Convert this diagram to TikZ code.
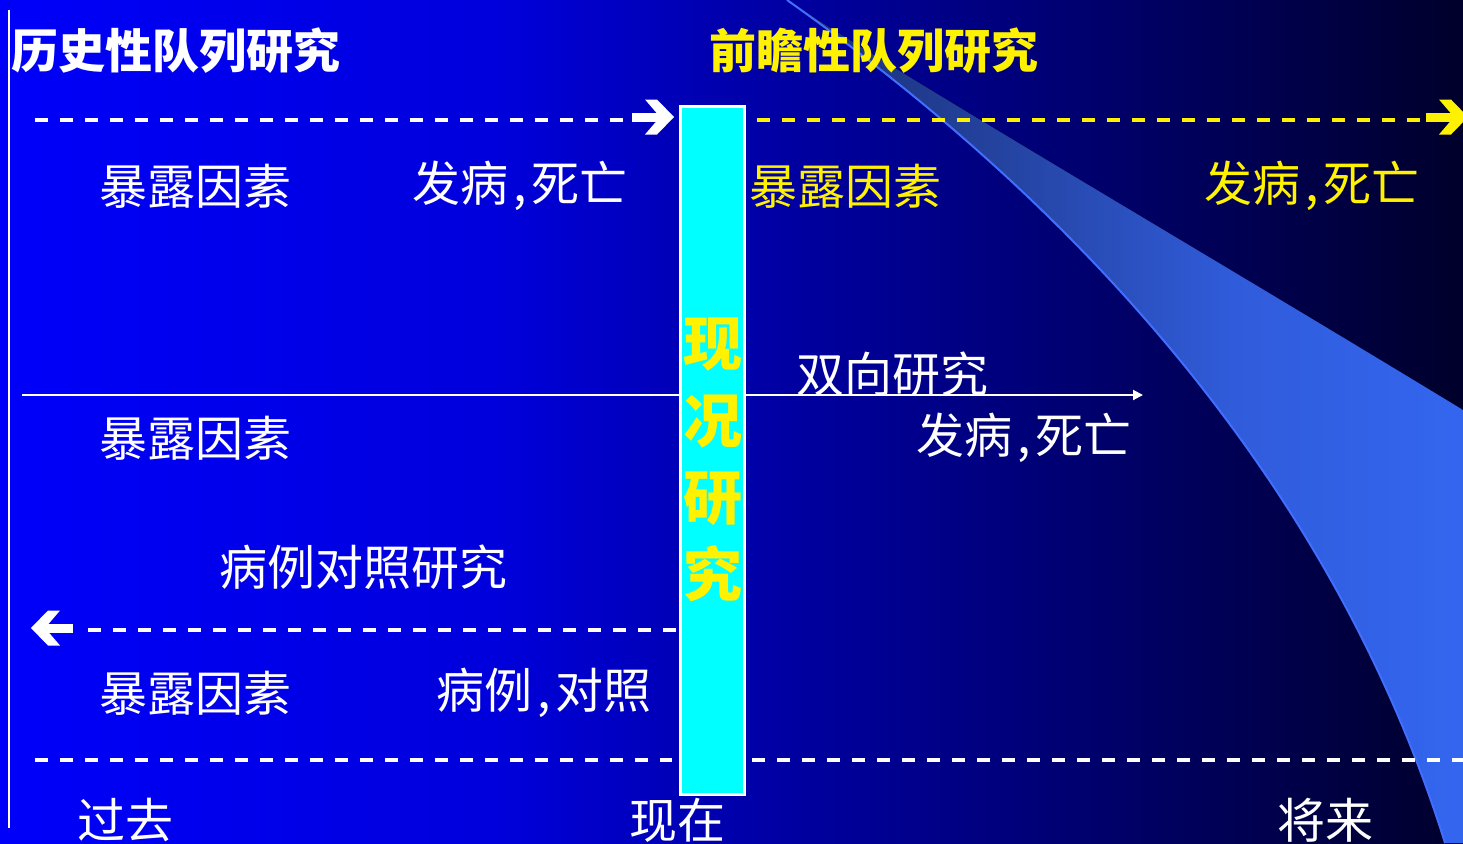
\documentclass[tikz,border=0pt]{standalone}
\usepackage{fontspec}
\newfontfamily\cjk{Noto Sans CJK SC}
\usetikzlibrary{arrows.meta}
\pgfdeclarehorizontalshading{bgshade}{100bp}{rgb(0bp)=(0,0,0.98); rgb(25bp)=(0,0,0.98); rgb(42bp)=(0,0,0.86); rgb(50.6bp)=(0,0,0.66); rgb(59.2bp)=(0,0,0.49); rgb(75bp)=(0,0,0.17); rgb(100bp)=(0,0,0.17)}
\pgfdeclarehorizontalshading{swshade}{100bp}{rgb(0bp)=(0.10,0.18,0.45); rgb(25bp)=(0.10,0.18,0.45); rgb(40bp)=(0.14,0.26,0.62); rgb(58bp)=(0.19,0.36,0.86); rgb(75bp)=(0.20,0.40,0.94); rgb(100bp)=(0.20,0.40,0.94)}
\definecolor{swedge}{RGB}{64,110,255}
\definecolor{cyanbox}{RGB}{0,255,255}
\tikzset{
  lbl/.style={font=\cjk\fontsize{48}{48}\selectfont, text=white, inner sep=0pt, anchor=west},
  ylbl/.style={lbl, text=yellow},
  ttl/.style={lbl, font=\cjk\bfseries\fontsize{47}{47}\selectfont},
  dashline/.style={line width=4pt, dash pattern=on 13pt off 12pt},
  fatarrow/.pic={
    \fill (-42,-4.5) rectangle (-13,4.5);
    \fill (0,0) -- (-17,-17.5) -- (-29,-17.5) -- (-14,0) -- (-29,17.5) -- (-17,17.5) -- cycle;
  }
}
\begin{document}
\begin{tikzpicture}[x=1pt,y=-1pt]
\useasboundingbox (0,0) rectangle (1463,843);
% background
\fill[shading=bgshade] (0,0) rectangle (1463,843);
% swoosh
\fill[shading=swshade] (787,0) .. controls (1110,228) and (1342,513) .. (1445,843)
  -- (1470,843) -- (1470,414) -- (1463,410) .. controls (1200,250) and (900,75) .. (787,0) -- cycle;
\draw[swedge, line width=2pt] (787,0) .. controls (1110,228) and (1342,513) .. (1445,843);

% left vertical line
\coordinate (vtop) at (9,10);
\coordinate (vbot) at (9,828);
\draw[white, line width=2pt] (vtop) -- (vbot);

% time points
\coordinate (hA) at (35,120);  \coordinate (hB) at (623,120);
\coordinate (pA) at (757,120); \coordinate (pB) at (1420,120);
\coordinate (bA) at (22,395);  \coordinate (bB) at (1143,395);
\coordinate (cA) at (676,630); \coordinate (cB) at (82,630);
\coordinate (tA) at (35,760);  \coordinate (tB) at (672,760);
\coordinate (tC) at (752,760); \coordinate (tD) at (1463,760);

\draw[white, dashline] (hA) -- (hB);
\pic[white] at (674,117) {fatarrow};
\draw[yellow, dashline] (pA) -- (pB);
\pic[yellow] at (1468,117) {fatarrow};
\draw[white, line width=2pt, -{Triangle[length=10pt,width=10pt]}] (bA) -- (bB);
\draw[white, dashline] (cA) -- (cB);
\pic[white, rotate=180] at (31,628) {fatarrow};
\draw[white, dashline] (tA) -- (tB);
\draw[white, dashline] (tC) -- (tD);

% present box
\node[draw=white, line width=3pt, fill=cyanbox, minimum width=64pt, minimum height=688pt, inner sep=0pt] (now box) at (712.5,450.5) {};
\node[font=\cjk\bfseries\fontsize{59}{77}\selectfont, text=yellow, align=center, inner sep=0pt] (xk) at (712.5,460) {现\\况\\研\\究};

% labels
\node[ttl] (t1) at (11,51) {历史性队列研究};
\node[ttl, text=yellow] (t2) at (709,51) {前瞻性队列研究};
\node[lbl] (r1a) at (99,186) {暴露因素};
\node[lbl] (r1b) at (412,186) {发病\kern0.1em,\kern0.1em 死亡};
\node[ylbl] (r1c) at (749,186) {暴露因素};
\node[ylbl] (r1d) at (1204,186) {发病\kern0.1em,\kern0.1em 死亡};
\node[lbl] (bi) at (796,374) {双向研究};
\node[lbl] (r2a) at (99,438) {暴露因素};
\node[lbl] (r2b) at (916,438) {发病\kern0.1em,\kern0.1em 死亡};
\node[lbl] (cc) at (219,567) {病例对照研究};
\node[lbl] (r3a) at (99,693) {暴露因素};
\node[lbl] (r3b) at (436,693) {病例\kern0.1em,\kern0.1em 对照};
\node[lbl] (past) at (77,820) {过去};
\node[lbl] (pres) at (629,820) {现在};
\node[lbl] (fut) at (1277,820) {将来};
\end{tikzpicture}
\end{document}
